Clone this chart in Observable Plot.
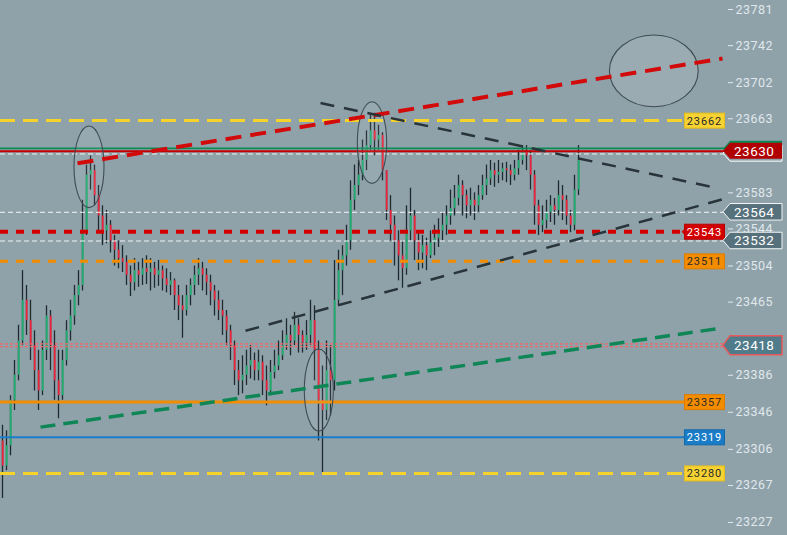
<!DOCTYPE html>
<html><head><meta charset="utf-8">
<script src="https://cdn.jsdelivr.net/npm/d3@7"></script>
<script src="https://cdn.jsdelivr.net/npm/@observablehq/plot@0.6"></script>
<style>html,body{margin:0;padding:0;background:#8fa2aa;overflow:hidden}</style>
</head><body><div id="chart"></div>
<script>
// ---- candle data (prices) ----
const firstOpen = 23315;
const closes = [
 23288,23310,23359,23386,23423,23467,23445,23418,23391,23369,
 23413,23450,23418,23380,23364,23402,23434,23450,23472,23483,
 23542,23602,23607,23580,23558,23542,23548,23531,23521,23512,
 23508,23494,23486,23499,23494,23501,23497,23501,23494,23499,
 23490,23483,23488,23472,23461,23456,23472,23483,23494,23501,
 23494,23486,23477,23467,23456,23450,23434,23418,23391,23380,
 23386,23396,23402,23391,23400,23380,23369,23389,23396,23407,
 23418,23429,23423,23440,23429,23421,23429,23445,23413,23359,
 23348,23391,23380,23467,23499,23515,23531,23575,23591,23602,
 23618,23634,23650,23640,23645,23607,23564,23548,23531,23515,
 23501,23542,23558,23531,23518,23526,23515,23529,23534,23542,
 23548,23558,23566,23577,23591,23580,23569,23575,23569,23580,
 23591,23598,23607,23602,23605,23609,23607,23602,23609,23618,
 23629,23623,23602,23569,23548,23553,23562,23569,23564,23580,
 23575,23558,23548,23586,23618];
const highs = [
 23332,23326,23364,23402,23440,23499,23483,23467,23434,23413,
 23423,23461,23456,23434,23413,23413,23445,23467,23483,23499,
 23575,23613,23623,23613,23591,23569,23564,23553,23537,23531,
 23526,23515,23504,23512,23508,23512,23515,23512,23508,23510,
 23504,23501,23497,23490,23483,23472,23483,23490,23504,23512,
 23508,23501,23494,23483,23477,23467,23456,23440,23423,23402,
 23407,23413,23418,23410,23413,23407,23396,23402,23413,23423,
 23434,23447,23440,23454,23447,23434,23445,23467,23461,23423,
 23396,23423,23418,23510,23521,23526,23548,23596,23613,23618,
 23640,23650,23667,23669,23656,23648,23607,23580,23558,23542,
 23531,23569,23588,23564,23542,23537,23534,23542,23548,23555,
 23562,23569,23586,23591,23602,23596,23586,23588,23583,23591,
 23602,23613,23618,23615,23618,23615,23616,23613,23618,23629,
 23634,23634,23629,23607,23575,23569,23575,23580,23577,23596,
 23591,23580,23564,23602,23634];
const lows = [
 23253,23283,23299,23348,23380,23418,23429,23402,23369,23348,
 23364,23402,23391,23359,23339,23359,23396,23423,23440,23461,
 23477,23537,23586,23569,23542,23526,23528,23518,23504,23501,
 23497,23483,23471,23477,23481,23483,23484,23477,23480,23482,
 23477,23475,23472,23456,23445,23426,23450,23461,23472,23483,
 23477,23472,23461,23450,23445,23429,23418,23402,23375,23364,
 23366,23375,23382,23380,23380,23364,23353,23364,23382,23391,
 23402,23413,23407,23418,23410,23410,23413,23418,23380,23315,
 23281,23337,23342,23369,23461,23472,23504,23521,23564,23580,
 23596,23607,23629,23623,23629,23596,23553,23531,23504,23488,
 23480,23494,23531,23510,23499,23501,23499,23512,23515,23524,
 23531,23537,23548,23558,23569,23558,23555,23558,23553,23562,
 23575,23580,23591,23589,23593,23596,23594,23591,23596,23602,
 23613,23607,23586,23548,23537,23540,23544,23551,23548,23558,
 23553,23548,23540,23542,23580];

// ---- axis ticks ----
const yTicks = [23227,23267,23306,23346,23386,23465,23504,23544,23583,23663,23702,23742,23781];

// ---- horizontal levels ----
const leftLabelTexts = ["23662","23543","23511","23357","23319","23280"];
const leftLinePrices = [23661, 23541, 23509, 23357, 23319, 23280];
const rightLabelTexts = ["23630","23564","23532","23418"];
const rightLinePrices = [23628, 23562, 23531, 23418];
const greenLevel = 23631;
const whiteLevel = 23625;
const dottedPair = [23420, 23417];

// ---- trend lines [index, price] ----
const trendStarts = [[18.75,23615],[79.5,23680],[60.75,23434],[9.5,23330]];
const trendEnds   = [[180,23728],[178.75,23588],[180,23576],[178.25,23436]];

// ---- ellipses (center index, center price, radius in index, radius in price) ----
const ellX  = [21.75, 92.5, 79.2, 162.95];
const ellY  = [23610.6, 23636.8, 23369.5, 23714.2];
const ellRX = [3.75, 3.67, 3.63, 11.1];
const ellRY = [44.1, 44.1, 44.3, 38.7];

// ---------- build ----------
const GREEN="#1fae6e", RED="#e8253a", WICK="#1f292e";
const candles = closes.map((c,i)=>({i, o: i===0?firstOpen:closes[i-1], c, h:highs[i], l:lows[i]}));

const leftStyles = [
  {fill:"#f6d232", stroke:"#e2bd1c", text:"#2b2b2b", line:"#f5d32a", w:3, dash:"15,8"},
  {fill:"#d20000", stroke:"#b80000", text:"#ffffff", line:"#d30000", w:4, dash:"8,8"},
  {fill:"#f48c00", stroke:"#dd7d00", text:"#2b2b2b", line:"#f28c00", w:3, dash:"8,8"},
  {fill:"#f48c00", stroke:"#dd7d00", text:"#2b2b2b", line:"#f28c00", w:3, dash:null},
  {fill:"#1a7cc6", stroke:"#1469a8", text:"#ffffff", line:"#1a7cc8", w:2, dash:null},
  {fill:"#f6d232", stroke:"#e2bd1c", text:"#2b2b2b", line:"#f5d32a", w:3, dash:"15,8"}
];

function levelRule(price, stroke, w, dash){
  const o = {stroke, strokeWidth:w};
  if (dash) o.strokeDasharray = dash;
  return Plot.ruleY([price], o);
}

function ellipsesMark(index, scales){
  const g = d3.create("svg:g");
  ellX.forEach((x,k)=>{
    const cx = scales.x(x), cy = scales.y(ellY[k]);
    const rx = Math.abs(scales.x(x+ellRX[k]) - cx);
    const ry = Math.abs(scales.y(ellY[k]+ellRY[k]) - cy);
    g.append("ellipse").attr("cx",cx).attr("cy",cy).attr("rx",rx).attr("ry",ry)
      .attr("fill", k===3 ? "rgba(255,255,255,0.1)" : "rgba(255,255,255,0.07)")
      .attr("stroke","#3f4c54").attr("stroke-width",1.1);
  });
  return g.node();
}

function pent(x0, y, h){ // pointer box, left tip at x0
  return `M${x0},${y} L${x0+7},${y-h/2} L${x0+59},${y-h/2} L${x0+59},${y+h/2} L${x0+7},${y+h/2} Z`;
}

function boxesMark(index, scales, values, dims){
  const R = dims.width - dims.marginRight;
  const g = d3.create("svg:g").attr("font-family","Roboto, sans-serif");
  leftLabelTexts.forEach((t,k)=>{
    const y = scales.y(leftLinePrices[k]) + 0.5;
    const s = leftStyles[k];
    if (k===1) g.append("path").attr("d",`M${R-40.5},${y-3} L${R-43.5},${y} L${R-40.5},${y+3} Z`).attr("fill",s.fill);
    g.append("rect").attr("x",R-40.5).attr("y",y-7.5).attr("width",40).attr("height",15)
      .attr("fill",s.fill).attr("stroke",s.stroke).attr("stroke-width",1);
    g.append("text").attr("x",R-20.5).attr("y",y).attr("dy","0.37em").attr("text-anchor","middle")
      .attr("font-size",11).attr("letter-spacing","0.9px").attr("fill",s.text).text(t);
  });
  const x0 = R - 2;
  rightLabelTexts.forEach((t,k)=>{
    const y = scales.y(rightLinePrices[k]);
    if (k===0){
      g.append("path").attr("d",pent(x0,y+2.5,16)).attr("fill","#8fa2aa").attr("stroke","#ffffff").attr("stroke-width",1);
      g.append("path").attr("d",pent(x0,y-2,16)).attr("fill","#0c8a56");
      g.append("path").attr("d",pent(x0,y,16)).attr("fill","#b00000");
    } else if (k===3){
      g.append("path").attr("d",pent(x0,y,19)).attr("fill","#4f7b8a").attr("stroke","#e85a5a").attr("stroke-width",1.5);
    } else {
      g.append("path").attr("d",pent(x0,y,16.5)).attr("fill","#57717c").attr("stroke","#f4f6f7").attr("stroke-width",1);
    }
    g.append("text").attr("x",x0+11).attr("y",y).attr("dy","0.37em").attr("text-anchor","start")
      .attr("font-size",13.5).attr("letter-spacing","0.5px").attr("fill","#ffffff").text(t);
  });
  return g.node();
}

const trendStyles = [
  {stroke:"#d20a0a", w:4, dash:"16,9"},
  {stroke:"#29333a", w:2.5, dash:"14,10"},
  {stroke:"#29333a", w:2.5, dash:"14,10"},
  {stroke:"#0e8656", w:3.5, dash:"15,8"}
];

const marks = [
  Plot.axisY({anchor:"right", ticks:yTicks, tickSize:5, tickPadding:3, dx:2, tickFormat:d=>String(d), fontSize:12.5}),
  Plot.ruleX(candles, {x:"i", y1:d=>Math.min(d.l,d.o,d.c), y2:d=>Math.max(d.h,d.o,d.c), stroke:WICK, strokeWidth:1.3}),
  Plot.rect(candles, {x1:d=>d.i-0.05, x2:d=>d.i+0.4, y1:"o", y2:"c", fill:d=>d.c>=d.o?GREEN:RED}),
  // horizontal levels
  ...leftLinePrices.map((p,k)=>levelRule(p, leftStyles[k].line, leftStyles[k].w, leftStyles[k].dash)),
  levelRule(greenLevel, "#0c8a56", 1.6, null),
  levelRule(rightLinePrices[0], "#c40000", 2, null),
  levelRule(whiteLevel, "#f2f4f5", 1, "5,3"),
  levelRule(rightLinePrices[1], "#f2f4f5", 1, "5,3"),
  levelRule(rightLinePrices[2], "#f2f4f5", 1, "5,3"),
  ...dottedPair.map(p=>levelRule(p, "#f06868", 1.3, "3,2")),
  ellipsesMark,
  ...trendStarts.map((s,k)=>Plot.link([0], {x1:()=>s[0], y1:()=>s[1], x2:()=>trendEnds[k][0], y2:()=>trendEnds[k][1],
      stroke:trendStyles[k].stroke, strokeWidth:trendStyles[k].w, strokeDasharray:trendStyles[k].dash})),
  boxesMark
];

const chart = Plot.plot({
  width:787, height:535,
  marginTop:0, marginBottom:0, marginLeft:0, marginRight:62,
  style:{background:"#8fa2aa", color:"#e0e8ec", fontFamily:"Roboto, sans-serif", letterSpacing:"0.5px", overflow:"visible"},
  x:{domain:[-0.5,180.75], axis:null},
  y:{domain:[23212.96,23790.72]},
  marks
});
document.getElementById("chart").appendChild(chart);
</script>
</body></html>
